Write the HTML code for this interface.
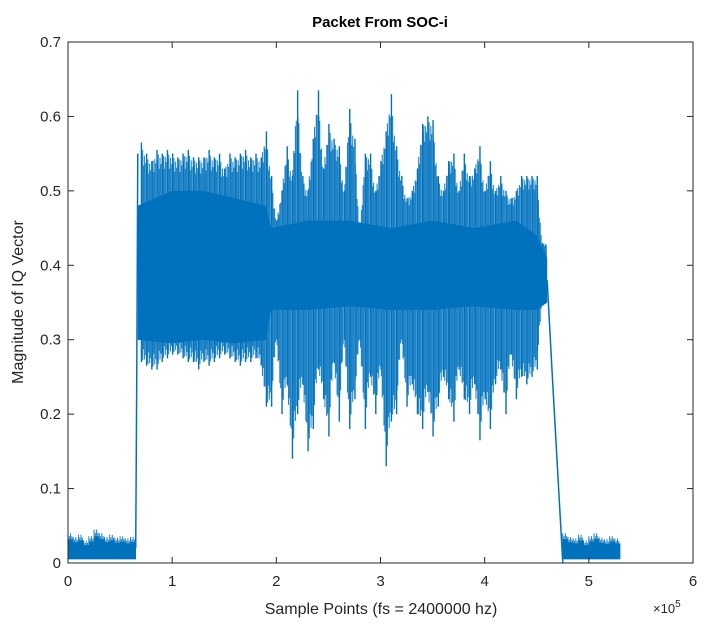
<!DOCTYPE html>
<html><head><meta charset="utf-8"><style>
body{margin:0;background:#fff;}
svg{display:block;font-family:"Liberation Sans",Arial,sans-serif;}
</style></head><body>
<svg id="chart" width="708" height="634" viewBox="0 0 708 634">
<g id="marks"></g>
<g id="axes"></g>
<text x="380" y="27" text-anchor="middle" font-size="15" font-weight="bold" fill="#000">Packet From SOC-i</text>
<text x="381" y="614" text-anchor="middle" font-size="16" fill="#262626">Sample Points (fs = 2400000 hz)</text>
<text transform="translate(23,302) rotate(-90)" text-anchor="middle" font-size="16" fill="#262626">Magnitude of IQ Vector</text>
<text x="653" y="613" font-size="13" fill="#262626">×10<tspan dy="-6" font-size="10">5</tspan></text>
</svg>
<script>
const xTicks=[0,1,2,3,4,5,6];
const yTicks=[0,0.1,0.2,0.3,0.4,0.5,0.6,0.7];
const yTickLabels=["0","0.1","0.2","0.3","0.4","0.5","0.6","0.7"];
const binStep=0.05;
const floor1X=[0,0.05,0.1,0.15,0.2,0.25,0.3,0.35,0.4,0.45,0.5,0.55,0.6];
const floor1Hi=[0.04,0.035,0.038,0.03,0.036,0.045,0.04,0.035,0.038,0.034,0.036,0.033,0.035];
const floor2X=[4.75,4.8,4.85,4.9,4.95,5.0,5.05,5.1,5.15,5.2,5.25];
const floor2Hi=[0.04,0.035,0.033,0.038,0.03,0.036,0.04,0.034,0.032,0.036,0.033];
const floorLo=0.005;
const bandX=[0.7,0.75,0.8,0.85,0.9,0.95,1.0,1.05,1.1,1.15,1.2,1.25,1.3,1.35,1.4,1.45,1.5,1.55,1.6,1.65,1.7,1.75,1.8,1.85,1.9,
1.95,2.0,2.05,2.1,2.15,2.2,2.25,2.3,2.35,2.4,2.45,2.5,2.55,2.6,2.65,2.7,2.75,2.8,2.85,2.9,2.95,3.0,3.05,3.1,3.15,3.2,3.25,3.3,3.35,3.4,3.45,3.5,3.55,3.6,3.65,3.7,3.75,3.8,3.85,3.9,3.95,4.0,4.05,4.1,4.15,4.2,4.25,4.3,4.35,4.4,4.45,4.5,4.55];
const bandHi=[0.565,0.55,0.54,0.555,0.55,0.555,0.55,0.545,0.55,0.555,0.545,0.545,0.545,0.555,0.545,0.55,0.53,0.55,0.545,0.55,0.555,0.545,0.55,0.545,0.58,
0.52,0.46,0.5,0.56,0.52,0.635,0.52,0.5,0.57,0.635,0.53,0.59,0.57,0.56,0.5,0.61,0.57,0.44,0.55,0.55,0.5,0.54,0.58,0.63,0.56,0.52,0.49,0.5,0.53,0.59,0.6,0.595,0.52,0.5,0.54,0.55,0.5,0.55,0.52,0.53,0.56,0.5,0.54,0.5,0.52,0.5,0.49,0.5,0.52,0.52,0.52,0.52,0.43];
const bandLo=[0.27,0.265,0.26,0.26,0.27,0.275,0.28,0.28,0.275,0.27,0.27,0.26,0.27,0.265,0.27,0.275,0.28,0.275,0.27,0.265,0.27,0.27,0.275,0.265,0.21,
0.21,0.3,0.2,0.24,0.14,0.2,0.24,0.15,0.18,0.26,0.22,0.17,0.27,0.19,0.3,0.18,0.22,0.3,0.18,0.25,0.2,0.26,0.13,0.19,0.2,0.3,0.21,0.24,0.2,0.18,0.23,0.17,0.21,0.25,0.22,0.19,0.26,0.22,0.2,0.24,0.165,0.22,0.18,0.24,0.26,0.2,0.28,0.22,0.25,0.24,0.25,0.26,0.35];
const coreX=[0.67,1.0,1.3,1.6,1.9,1.95,2.3,2.7,3.1,3.5,3.9,4.3,4.5,4.6];
const coreTop=[0.48,0.5,0.5,0.49,0.48,0.45,0.46,0.46,0.45,0.46,0.45,0.46,0.44,0.41];
const coreBot=[0.3,0.295,0.3,0.295,0.3,0.34,0.34,0.345,0.34,0.34,0.345,0.34,0.34,0.35];
const edgeX=[0.65,0.66,0.67,4.6,4.65,4.75];
const edgeY=[0.02,0.25,0.55,0.38,0.25,0.0];

const L=68,R=693,T=42,B=563;
const sx=v=>L+(v-0)/6*(R-L);
const sy=v=>B-(v/0.7)*(B-T);
const NS="http://www.w3.org/2000/svg";
const C="#0072BD";
const marks=document.getElementById('marks');
function ln(x1,y1,x2,y2,w,op,g){const e=document.createElementNS(NS,'line');e.setAttribute('x1',x1);e.setAttribute('y1',y1);e.setAttribute('x2',x2);e.setAttribute('y2',y2);e.setAttribute('stroke',C);e.setAttribute('stroke-width',w);if(op)e.setAttribute('stroke-opacity',op);g.appendChild(e);return e;}
[[floor1X,floor1Hi],[floor2X,floor2Hi]].forEach(([xs,hs])=>{
 const g=document.createElementNS(NS,'g');
 
 
 marks.appendChild(g);
 xs.forEach((x,i)=>{const x0=sx(x),x1=sx(x+binStep);
  const r=document.createElementNS(NS,'rect');r.setAttribute('x',x0);r.setAttribute('width',x1-x0+0.3);
  r.setAttribute('y',sy(hs[i]*0.8));r.setAttribute('height',sy(floorLo)-sy(hs[i]*0.8));r.setAttribute('fill',C);g.appendChild(r);
  for(let k=0;k<4;k++){ln(x0+k*(x1-x0)/4,sy(hs[i]*(k%2?0.9:1)),x0+k*(x1-x0)/4,sy(floorLo),1,0.9,g);}
 });
});
const bg=document.createElementNS(NS,'g');


marks.appendChild(bg);
const fr=[0,0.92,0.97,0.85,0.95,0.9];
bandX.forEach((x,i)=>{const x0=sx(x),x1=sx(x+binStep),w=x1-x0;
 const h=bandHi[i],l=bandLo[i],nh=bandHi[i+1]!==undefined?bandHi[i+1]:h,nl=bandLo[i+1]!==undefined?bandLo[i+1]:l;
 ln(x0+0.5,sy(h),x0+0.5,sy(l),1.4,1,bg);
 for(let k=1;k<6;k++){const t=k/6,hh=(h*(1-t)+nh*t),ll=(l*(1-t)+nl*t),mid=0.4;
  ln(x0+w*t,sy(mid+(hh-mid)*fr[k]),x0+w*t,sy(mid-(mid-ll)*fr[k]),1.1,0.85,bg);}
});
const core=document.createElementNS(NS,'polygon');


let pts=coreX.map((x,i)=>sx(x)+','+sy(coreTop[i]));
for(let i=coreX.length-1;i>=0;i--)pts.push(sx(coreX[i])+','+sy(coreBot[i]));
core.setAttribute('points',pts.join(' '));core.setAttribute('fill',C);marks.appendChild(core);
const eg=document.createElementNS(NS,'g');


marks.appendChild(eg);
ln(sx(edgeX[0]),sy(edgeY[0]),sx(edgeX[1]),sy(edgeY[1]),1.5,1,eg);
ln(sx(edgeX[1]),sy(edgeY[1]),sx(edgeX[2]),sy(edgeY[2]),1.5,1,eg);
ln(sx(edgeX[3]),sy(edgeY[3]),sx(edgeX[4]),sy(edgeY[4]),1.5,1,eg);
ln(sx(edgeX[4]),sy(edgeY[4]),sx(edgeX[5]),sy(edgeY[5]),1.5,1,eg);
const ax=document.getElementById('axes');
const box=document.createElementNS(NS,'rect');


box.setAttribute('x',L);box.setAttribute('y',T);box.setAttribute('width',R-L);box.setAttribute('height',B-T);
box.setAttribute('fill','none');box.setAttribute('stroke','#262626');box.setAttribute('stroke-width','1');ax.appendChild(box);
function tl(x1,y1,x2,y2){const e=document.createElementNS(NS,'line');e.setAttribute('x1',x1);e.setAttribute('y1',y1);e.setAttribute('x2',x2);e.setAttribute('y2',y2);e.setAttribute('stroke','#262626');ax.appendChild(e);}
function tx(x,y,s,anchor,nm){const e=document.createElementNS(NS,'text');e.setAttribute('x',x);e.setAttribute('y',y);e.setAttribute('text-anchor',anchor);e.setAttribute('font-size','15');e.setAttribute('fill','#262626');e.textContent=s;
 
 
 ax.appendChild(e);}
xTicks.forEach(v=>{const x=sx(v);tl(x,B,x,B-6);tl(x,T,x,T+6);tx(x,B+23,String(v),'middle','x-tick-label');});
yTicks.forEach((v,i)=>{const y=sy(v);tl(L,y,L+6,y);tl(R,y,R-6,y);tx(L-7,y+5,yTickLabels[i],'end','y-tick-label');});
</script>
</body></html>
